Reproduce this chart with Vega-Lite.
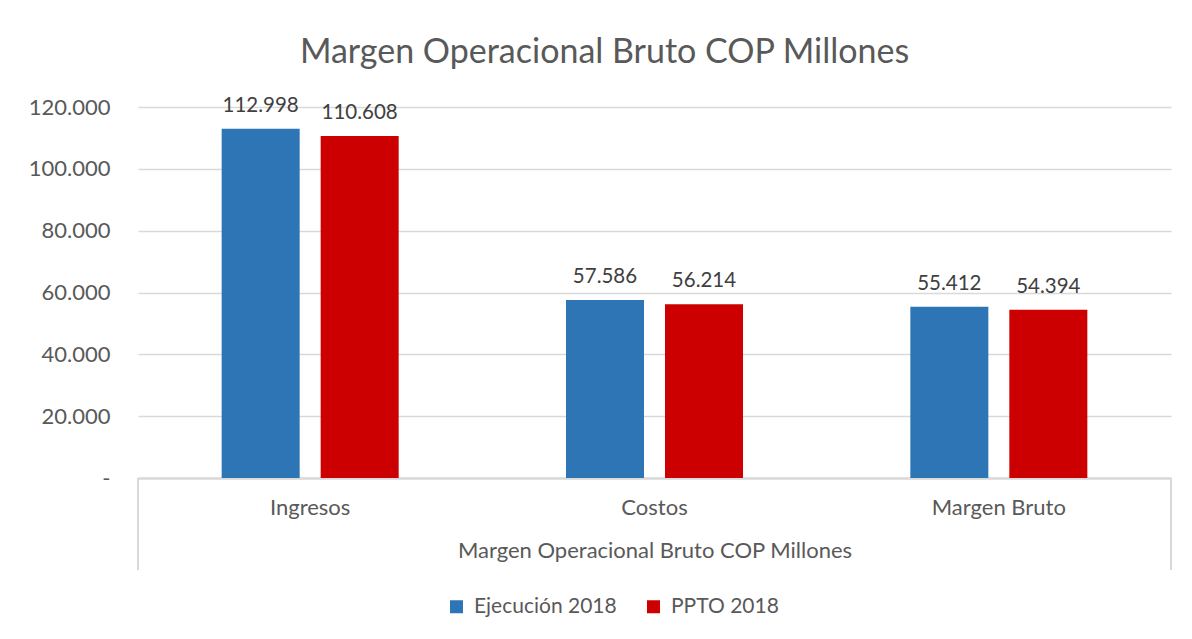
{
  "$schema": "https://vega.github.io/schema/vega-lite/v6.json",
  "width": 1033,
  "height": 371,
  "autosize": "none",
  "padding": {"left": 138, "top": 107, "right": 21, "bottom": 161},
  "background": "white",
  "config": {
    "locale": {"number": {"decimal": ",", "thousands": ".", "grouping": [3], "currency": ["$", ""]}},
    "font": "Lato",
    "view": {"stroke": null}
  },
  "title": {
    "text": "Margen Operacional Bruto COP Millones",
    "font": "Lato",
    "fontSize": 34,
    "fontWeight": "normal",
    "color": "#595959",
    "anchor": "middle",
    "frame": "group",
    "dx": -50,
    "offset": -1,
    "baseline": "alphabetic"
  },
  "data": {
    "values": [
      {"categoria": "Ingresos", "serie": "Ejecución 2018", "valor": 112998},
      {"categoria": "Ingresos", "serie": "PPTO 2018", "valor": 110608},
      {"categoria": "Costos", "serie": "Ejecución 2018", "valor": 57586},
      {"categoria": "Costos", "serie": "PPTO 2018", "valor": 56214},
      {"categoria": "Margen Bruto", "serie": "Ejecución 2018", "valor": 55412},
      {"categoria": "Margen Bruto", "serie": "PPTO 2018", "valor": 54394}
    ]
  },
  "layer": [
    {
      "mark": {"type": "bar"},
      "encoding": {
        "x": {
          "field": "categoria", "type": "nominal",
          "sort": ["Ingresos", "Costos", "Margen Bruto"],
          "scale": {"paddingInner": 0, "paddingOuter": 0},
          "axis": {
            "title": "Margen Operacional Bruto COP Millones",
            "labelAngle": 0,
            "labelFont": "Lato",
            "labelFontSize": 22,
            "labelColor": "#595959",
            "labelPadding": 19,
            "ticks": false,
            "domainColor": "#d9d9d9",
            "domainWidth": 2.5,
            "titleFont": "Lato",
            "titleFontSize": 22,
            "titleFontWeight": "normal",
            "titleColor": "#595959",
            "titlePadding": 22
          }
        },
        "xOffset": {
          "field": "serie", "type": "nominal",
          "sort": ["Ejecución 2018", "PPTO 2018"],
          "scale": {"paddingInner": 0.212, "paddingOuter": 0.845}
        },
        "y": {
          "field": "valor", "type": "quantitative",
          "scale": {"domain": [0, 120000], "nice": false},
          "axis": {
            "title": null,
            "values": [0, 20000, 40000, 60000, 80000, 100000, 120000],
            "labelExpr": "datum.value === 0 ? '-' : datum.label",
            "labelFont": "Lato",
            "labelFontSize": 22,
            "labelColor": "#595959",
            "labelPadding": 28,
            "ticks": false,
            "domain": false,
            "gridColor": "#d9d9d9",
            "gridWidth": 1.3
          }
        },
        "color": {
          "field": "serie", "type": "nominal",
          "scale": {"domain": ["Ejecución 2018", "PPTO 2018"], "range": ["#2E75B6", "#CC0000"]},
          "legend": {
            "title": null,
            "orient": "none",
            "direction": "horizontal",
            "legendX": 308,
            "legendY": 489,
            "padding": 0,
            "symbolType": "square",
            "symbolSize": 169,
            "symbolStrokeWidth": 0,
            "labelFont": "Lato",
            "labelFontSize": 21,
            "labelColor": "#595959",
            "labelOffset": 7,
            "columnPadding": 26
          }
        }
      }
    },
    {
      "mark": {"type": "text", "baseline": "alphabetic", "dy": -17, "fontSize": 20.5, "font": "Lato", "color": "#404040"},
      "encoding": {
        "x": {"field": "categoria", "type": "nominal", "sort": ["Ingresos", "Costos", "Margen Bruto"]},
        "xOffset": {"field": "serie", "type": "nominal", "sort": ["Ejecución 2018", "PPTO 2018"]},
        "y": {"field": "valor", "type": "quantitative"},
        "text": {"field": "valor", "type": "quantitative", "format": ",.0f"}
      }
    },
    {
      "data": {"values": [{"categoria": "Ingresos"}]},
      "mark": {"type": "rule", "color": "#d9d9d9", "strokeWidth": 2},
      "encoding": {
        "x": {"field": "categoria", "type": "nominal", "bandPosition": 0, "sort": ["Ingresos", "Costos", "Margen Bruto"]},
        "y": {"datum": 0},
        "y2": {"datum": -29750}
      }
    },
    {
      "data": {"values": [{"categoria": "Margen Bruto"}]},
      "mark": {"type": "rule", "color": "#d9d9d9", "strokeWidth": 2},
      "encoding": {
        "x": {"field": "categoria", "type": "nominal", "bandPosition": 1, "sort": ["Ingresos", "Costos", "Margen Bruto"]},
        "y": {"datum": 0},
        "y2": {"datum": -29750}
      }
    }
  ]
}
